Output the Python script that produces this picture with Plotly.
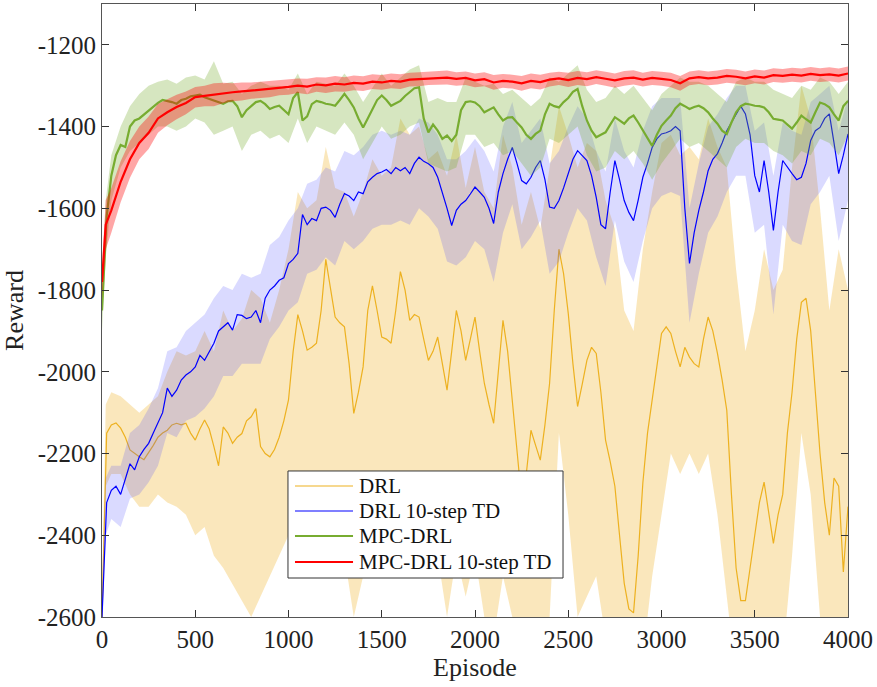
import plotly.graph_objects as go

# Episode positions of the sampled points
BAND_EPISODES = [0, 20] + list(range(50, 4001, 50))   # bands + red mean
LINE_EPISODES = list(range(0, 4001, 25))              # finer mean curves

SERIES_NAMES = ["DRL", "DRL 10-step TD", "MPC-DRL", "MPC-DRL 10-step TD"]

# ---------------- DRL (yellow) ----------------
DRL_MEAN = [
    -2600, -2150, -2130, -2125, -2138, -2160, -2191, -2200,
    -2208, -2215, -2199, -2180, -2160, -2150, -2143, -2130,
    -2126, -2130, -2126, -2150, -2167, -2140, -2118, -2140,
    -2183, -2230, -2135, -2150, -2175, -2160, -2151, -2120,
    -2110, -2090, -2183, -2200, -2208, -2190, -2160, -2120,
    -2069, -1950, -1860, -1900, -1947, -1940, -1930, -1850,
    -1725, -1800, -1866, -1880, -1890, -1980, -2102, -2050,
    -1988, -1850, -1790, -1850, -1915, -1920, -1930, -1850,
    -1755, -1800, -1874, -1860, -1866, -1920, -1972, -1950,
    -1915, -1980, -2045, -1950, -1850, -1900, -1972, -1920,
    -1866, -1950, -2028, -2080, -2126, -2000, -1874, -1950,
    -2069, -2200, -2313, -2250, -2143, -2180, -2216, -2130,
    -2028, -1850, -1700, -1760, -1857, -1980, -2085, -2030,
    -1972, -1940, -1955, -2050, -2167, -2220, -2280, -2400,
    -2517, -2580, -2590, -2450, -2272, -2150, -2069, -1980,
    -1906, -1890, -1906, -1950, -1988, -1940, -1964, -1980,
    -1988, -1920, -1866, -1900, -1955, -2020, -2094, -2300,
    -2480, -2560, -2560, -2480, -2400, -2320, -2270, -2350,
    -2420, -2350, -2300, -2150, -2050, -1920, -1830, -1820,
    -1900, -2050, -2200, -2320, -2400, -2260, -2280, -2490,
    -2330,
]
DRL_UPPER = [
    -2550, -2080, -2050, -2060, -2080, -2100, -2080, -2060, -2000, -1950,
    -1960, -1950, -1900, -1950, -1850, -1900, -1870, -1800, -1820, -1880,
    -1800, -1700, -1560, -1600, -1580, -1450, -1550, -1560, -1620, -1560,
    -1480, -1520, -1500, -1380, -1420, -1400, -1480, -1460, -1520, -1420,
    -1550, -1450, -1560, -1600, -1420, -1500, -1640, -1560, -1650, -1500,
    -1350, -1420, -1500, -1440, -1460, -1580, -1650, -1850, -1900, -1700,
    -1560, -1440, -1420, -1470, -1450, -1480, -1380, -1450, -1500, -1750,
    -1950, -1850, -1700, -1800, -1750, -1500, -1300, -1380, -1600, -1850,
    -1700, -1800,
]
DRL_LOWER = [
    -2650, -2280, -2250, -2250, -2300, -2330, -2330, -2300, -2320, -2330,
    -2350, -2400, -2380, -2450, -2480, -2520, -2560, -2600, -2550, -2500,
    -2450, -2400, -2250, -2350, -2450, -2300, -2400, -2450, -2600, -2500,
    -2350, -2450, -2500, -2350, -2400, -2400, -2500, -2450, -2600, -2450,
    -2550, -2450, -2600, -2650, -2500, -2600, -2700, -2650, -2700, -2600,
    -2150, -2350, -2600, -2550, -2500, -2650, -2700, -2750, -2750, -2700,
    -2500, -2350, -2200, -2250, -2200, -2250, -2200, -2350, -2550, -2750,
    -2750, -2700, -2650, -2750, -2700, -2450, -2150, -2300, -2600, -2700,
    -2650, -2700,
]

# ---------------- DRL 10-step TD (blue) ----------------
DRL10_MEAN = [
    -2600, -2320, -2290, -2280, -2300, -2260, -2225, -2240,
    -2208, -2190, -2175, -2150, -2126, -2100, -2040, -2060,
    -2045, -2020, -2008, -2000, -1988, -1960, -1972, -1950,
    -1930, -1900, -1890, -1880, -1898, -1860, -1862, -1870,
    -1866, -1850, -1880, -1820, -1800, -1790, -1776, -1770,
    -1735, -1725, -1710, -1615, -1640, -1625, -1630, -1600,
    -1597, -1605, -1622, -1590, -1564, -1570, -1581, -1560,
    -1564, -1535, -1524, -1515, -1511, -1505, -1515, -1500,
    -1508, -1500, -1515, -1490, -1475, -1485, -1491, -1500,
    -1524, -1560, -1600, -1642, -1605, -1590, -1581, -1565,
    -1548, -1560, -1573, -1600, -1637, -1560, -1515, -1480,
    -1451, -1490, -1532, -1540, -1524, -1500, -1483, -1530,
    -1597, -1600, -1581, -1550, -1515, -1480, -1459, -1470,
    -1483, -1520, -1573, -1640, -1650, -1560, -1483, -1530,
    -1581, -1610, -1630, -1580, -1524, -1490, -1451, -1430,
    -1418, -1415, -1410, -1400, -1410, -1600, -1735, -1660,
    -1605, -1560, -1508, -1480, -1466, -1440, -1410, -1390,
    -1369, -1350, -1369, -1420, -1520, -1560, -1483, -1560,
    -1654, -1560, -1483, -1500, -1515, -1530, -1524, -1490,
    -1434, -1410, -1402, -1380, -1369, -1440, -1515, -1470,
    -1418,
]
DRL10_UPPER = [
    -2550, -2260, -2230, -2230, -2150, -2130, -2090, -2040, -1950, -1940,
    -1900, -1880, -1860, -1820, -1790, -1800, -1760, -1770, -1760, -1690,
    -1670, -1630, -1600, -1540, -1530, -1500, -1510, -1460, -1470, -1450,
    -1420, -1410, -1420, -1410, -1420, -1380, -1390, -1420, -1480, -1480,
    -1460, -1430, -1460, -1510, -1400, -1340, -1440, -1410, -1380, -1490,
    -1460, -1400, -1350, -1380, -1460, -1510, -1380, -1460, -1500, -1410,
    -1350, -1330, -1330, -1330, -1600, -1490, -1400, -1370, -1330, -1300,
    -1300, -1410, -1390, -1520, -1390, -1410, -1420, -1340, -1320, -1300,
    -1410, -1330,
]
DRL10_LOWER = [
    -2650, -2400, -2360, -2380, -2310, -2300, -2270, -2230, -2150, -2160,
    -2120, -2110, -2090, -2060, -2010, -2010, -1980, -1980, -1980, -1920,
    -1890, -1850, -1830, -1760, -1750, -1720, -1740, -1680, -1700, -1680,
    -1650, -1640, -1640, -1630, -1640, -1600, -1620, -1650, -1730, -1740,
    -1720, -1680, -1700, -1780, -1660, -1590, -1700, -1670, -1630, -1760,
    -1730, -1660, -1600, -1630, -1720, -1790, -1630, -1730, -1780, -1680,
    -1600, -1570, -1560, -1570, -1880, -1760, -1660, -1620, -1560, -1520,
    -1520, -1660, -1640, -1860, -1640, -1680, -1690, -1590, -1560, -1520,
    -1680, -1580,
]

# ---------------- MPC-DRL (green) ----------------
MPC_MEAN = [
    -1850, -1620, -1520, -1470, -1445, -1450, -1400, -1385,
    -1380, -1370, -1362, -1350, -1342, -1335, -1337, -1340,
    -1344, -1335, -1332, -1326, -1324, -1322, -1328, -1332,
    -1337, -1340, -1344, -1338, -1337, -1350, -1377, -1360,
    -1349, -1340, -1337, -1345, -1357, -1352, -1349, -1360,
    -1370, -1330, -1316, -1385, -1375, -1345, -1337, -1340,
    -1344, -1346, -1349, -1335, -1320, -1335, -1353, -1380,
    -1402, -1380, -1357, -1335, -1324, -1335, -1349, -1342,
    -1337, -1325, -1316, -1306, -1304, -1380, -1414, -1395,
    -1410, -1430, -1422, -1435, -1420, -1360, -1340, -1338,
    -1341, -1350, -1365, -1358, -1353, -1370, -1385, -1378,
    -1377, -1390, -1402, -1420, -1430, -1418, -1410, -1370,
    -1344, -1350, -1353, -1340, -1330, -1315, -1308, -1350,
    -1385, -1410, -1426, -1420, -1414, -1395, -1377, -1385,
    -1393, -1380, -1373, -1390, -1410, -1430, -1447, -1420,
    -1398, -1385, -1373, -1355, -1344, -1350, -1357, -1352,
    -1349, -1355, -1365, -1380, -1393, -1410, -1418, -1390,
    -1365, -1350, -1344, -1346, -1349, -1350, -1353, -1365,
    -1381, -1383, -1385, -1395, -1405, -1390, -1373, -1382,
    -1390, -1365, -1341, -1345, -1353, -1370, -1385, -1350,
    -1337,
]
MPC_UPPER = [
    -1800, -1580, -1470, -1400, -1350, -1320, -1300, -1290, -1285, -1295,
    -1280, -1275, -1285, -1240, -1295, -1290, -1320, -1300, -1290, -1300,
    -1300, -1310, -1270, -1320, -1290, -1295, -1300, -1270, -1300, -1340,
    -1305, -1270, -1300, -1280, -1260, -1250, -1340, -1330, -1340, -1340,
    -1280, -1290, -1300, -1295, -1320, -1310, -1330, -1350, -1330, -1280,
    -1290, -1270, -1250, -1310, -1340, -1330, -1300, -1320, -1300, -1330,
    -1360, -1320, -1300, -1280, -1290, -1290, -1300, -1320, -1340, -1290,
    -1280, -1290, -1290, -1310, -1320, -1330, -1300, -1310, -1280, -1290,
    -1320, -1290,
]
MPC_LOWER = [
    -1900, -1720, -1580, -1500, -1460, -1440, -1420, -1400, -1400, -1410,
    -1400, -1380, -1390, -1420, -1410, -1400, -1460, -1420, -1410, -1430,
    -1420, -1440, -1380, -1440, -1400, -1410, -1420, -1390, -1420, -1480,
    -1440, -1400, -1430, -1420, -1400, -1390, -1490, -1500, -1510, -1500,
    -1420, -1420, -1450, -1440, -1470, -1460, -1490, -1520, -1500, -1430,
    -1440, -1420, -1400, -1470, -1510, -1500, -1460, -1480, -1460, -1490,
    -1530, -1490, -1460, -1430, -1450, -1440, -1460, -1480, -1500, -1450,
    -1430, -1440, -1440, -1460, -1470, -1490, -1460, -1470, -1430, -1440,
    -1470, -1420,
]

# ---------------- MPC-DRL 10-step TD (red) ----------------
MPC10_MEAN = [
    -1780, -1640, -1605, -1535, -1480, -1440, -1415, -1380, -1365, -1352,
    -1342, -1328, -1325, -1322, -1318, -1316, -1314, -1312, -1310, -1308,
    -1305, -1303, -1300, -1302, -1297, -1299, -1295, -1297, -1293, -1295,
    -1290, -1292, -1288, -1290, -1285, -1284, -1282, -1281, -1280, -1283,
    -1281, -1287, -1284, -1292, -1288, -1290, -1294, -1288, -1291, -1285,
    -1282, -1286, -1281, -1284, -1279, -1283, -1287, -1282, -1280, -1285,
    -1281, -1283, -1286, -1294, -1282, -1279, -1282, -1280, -1276, -1278,
    -1282, -1277, -1280, -1274, -1276, -1273, -1275, -1271, -1274, -1272,
    -1275, -1270,
]
MPC10_UPPER = [
    -1740, -1580, -1550, -1485, -1435, -1400, -1375, -1345, -1333, -1322,
    -1314, -1303, -1300, -1294, -1293, -1294, -1292, -1292, -1290, -1288,
    -1287, -1284, -1282, -1283, -1279, -1280, -1276, -1279, -1275, -1277,
    -1272, -1274, -1270, -1272, -1268, -1267, -1266, -1264, -1263, -1267,
    -1265, -1270, -1267, -1274, -1271, -1273, -1276, -1270, -1273, -1268,
    -1266, -1268, -1264, -1267, -1262, -1266, -1270, -1264, -1262, -1268,
    -1264, -1266, -1268, -1276, -1265, -1262, -1265, -1263, -1259, -1261,
    -1265, -1260, -1263, -1257, -1259, -1256, -1258, -1254, -1257, -1255,
    -1258, -1253,
]
MPC10_LOWER = [
    -1820, -1700, -1660, -1585, -1525, -1480, -1455, -1415, -1397, -1382,
    -1370, -1353, -1350, -1350, -1343, -1338, -1336, -1332, -1330, -1328,
    -1323, -1322, -1318, -1321, -1315, -1318, -1314, -1315, -1311, -1313,
    -1308, -1310, -1306, -1308, -1302, -1301, -1298, -1298, -1297, -1300,
    -1298, -1304, -1301, -1310, -1305, -1307, -1312, -1306, -1309, -1302,
    -1298, -1303, -1298, -1301, -1296, -1300, -1305, -1300, -1297, -1302,
    -1298, -1300, -1304, -1312, -1299, -1296, -1299, -1297, -1293, -1295,
    -1299, -1294, -1297, -1291, -1293, -1290, -1292, -1288, -1291, -1289,
    -1292, -1287,
]

X_TICKS = [0, 500, 1000, 1500, 2000, 2500, 3000, 3500, 4000]
Y_TICKS = [-2600, -2400, -2200, -2000, -1800, -1600, -1400, -1200]

STYLES = [
    # (mean x, mean, upper, lower, line colour, fill colour, line width)
    (LINE_EPISODES, DRL_MEAN, DRL_UPPER, DRL_LOWER, "#EDB120", "rgba(237,177,32,0.30)", 1.2),
    (LINE_EPISODES, DRL10_MEAN, DRL10_UPPER, DRL10_LOWER, "#0000FF", "rgba(70,70,255,0.20)", 1.2),
    (LINE_EPISODES, MPC_MEAN, MPC_UPPER, MPC_LOWER, "#77AC30", "rgba(119,172,48,0.30)", 2.2),
    (BAND_EPISODES, MPC10_MEAN, MPC10_UPPER, MPC10_LOWER, "#FF0000", "rgba(255,0,0,0.35)", 2.2),
]

FONT = "Liberation Serif, Times New Roman, serif"

fig = go.Figure()
for name, (mx, mean, upper, lower, lc, fc, lw) in zip(SERIES_NAMES, STYLES):
    fig.add_trace(go.Scatter(x=BAND_EPISODES, y=upper, mode="lines",
                             line=dict(width=0, color=fc), showlegend=False,
                             hoverinfo="skip"))
    fig.add_trace(go.Scatter(x=BAND_EPISODES, y=lower, mode="lines",
                             line=dict(width=0, color=fc), fill="tonexty",
                             fillcolor=fc, showlegend=False, hoverinfo="skip"))
    fig.add_trace(go.Scatter(x=mx, y=mean, mode="lines", name=name,
                             line=dict(width=lw, color=lc), showlegend=False))

# ---- legend box drawn in paper coordinates (MATLAB-style compact legend) ----
LEG_X0, LEG_X1 = 0.2493, 0.618
LEG_Y0, LEG_Y1 = 0.0636, 0.2382
LEG_ROWS = [0.2137, 0.1729, 0.1321, 0.0897]
LEG_LINE_X0, LEG_LINE_X1, LEG_TEXT_X = 0.2587, 0.3365, 0.3418

shapes = [dict(type="rect", xref="paper", yref="paper", x0=LEG_X0, x1=LEG_X1,
               y0=LEG_Y0, y1=LEG_Y1, line=dict(color="#333333", width=1),
               fillcolor="white", layer="above")]
annotations = []
for name, row, st in zip(SERIES_NAMES, LEG_ROWS, STYLES):
    shapes.append(dict(type="line", xref="paper", yref="paper",
                       x0=LEG_LINE_X0, x1=LEG_LINE_X1, y0=row, y1=row,
                       line=dict(color=st[4], width=st[6]), layer="above"))
    annotations.append(dict(xref="paper", yref="paper", x=LEG_TEXT_X, y=row,
                            xanchor="left", yanchor="middle", showarrow=False,
                            text=name, font=dict(family=FONT, size=21, color="#111111")))

axis_common = dict(
    showline=True, linecolor="#555555", linewidth=1, mirror="ticks",
    ticks="inside", ticklen=7, tickcolor="#333333", showgrid=False,
    zeroline=False, tickfont=dict(family=FONT, size=25, color="#222222"),
)

fig.update_layout(
    width=877, height=687,
    margin=dict(l=102, r=29, t=4, b=70),
    plot_bgcolor="white", paper_bgcolor="white",
    font=dict(family=FONT, color="#222222"),
    xaxis=dict(range=[0, 4000], tickvals=X_TICKS,
               ticktext=[str(v) for v in X_TICKS],
               title=dict(text="Episode", font=dict(family=FONT, size=26), standoff=2),
               **axis_common),
    yaxis=dict(range=[-2600, -1100], tickvals=Y_TICKS,
               ticktext=[str(v) for v in Y_TICKS],
               title=dict(text="Reward", font=dict(family=FONT, size=26), standoff=8),
               **axis_common),
    shapes=shapes,
    annotations=annotations,
    showlegend=False,
)

fig.write_html("out.html")
